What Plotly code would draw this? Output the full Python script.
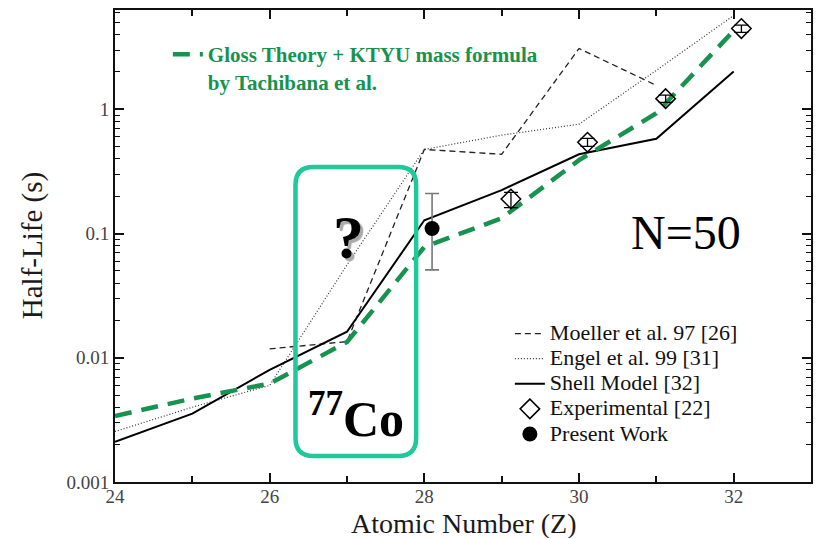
import plotly.graph_objects as go

# Half-lives (s) of N=50 isotones versus atomic number Z
z_shell = [24, 25, 26, 27, 28, 29, 30, 31, 32]
t_shell = [0.00211, 0.00355, 0.0080, 0.0162, 0.128, 0.224, 0.435, 0.58, 2.02]

z_gloss = [24, 25, 26, 27, 28, 29, 30, 31, 32]
t_gloss = [0.0034, 0.0047, 0.0062, 0.0134, 0.078, 0.133, 0.39, 0.93, 4.3]

z_moeller = [26, 27, 28, 29, 30, 31]
t_moeller = [0.0118, 0.0135, 0.476, 0.435, 3.09, 1.56]

z_engel = [24, 25, 26, 27, 28, 29, 30, 31, 32]
t_engel = [0.00255, 0.0040, 0.0060, 0.056, 0.476, 0.62, 0.76, 2.06, 5.7]

z_exp = [29.12, 30.11, 31.12, 32.1]
t_exp = [0.19, 0.543, 1.22, 4.47]
t_exp_plus = [0.025, 0.04, 0.08, 0.3]
t_exp_minus = [0.028, 0.04, 0.08, 0.3]

z_present = [28.1]
t_present = [0.11]
t_present_plus = [0.10]
t_present_minus = [0.059]

y_tickvals = [0.001, 0.01, 0.1, 1]
y_ticktext = ["0.001", "0.01", "0.1", "1"]
x_tickvals = [24, 26, 28, 30, 32]

W, H = 821, 538
ML, MR, MT, MB = 115, 8, 10, 56
PW, PH = W - ML - MR, H - MT - MB


def px(x):
    return (x - ML) / PW


def py(y):
    return (H - MB - y) / PH


SERIF = "Liberation Serif, Times New Roman, serif"
GREEN = "#17934f"


def big(label, size=22):
    # legend rows are spaced by the legend font size; the label itself is larger
    return f'<span style="font-size:{size}px">{label}</span>'


fig = go.Figure()

fig.add_trace(go.Scatter(
    x=z_moeller, y=t_moeller, mode="lines", name=big("Moeller et al. 97 [26]"),
    line=dict(color="#222", width=1.3, dash="6px,4px")))
fig.add_trace(go.Scatter(
    x=z_engel, y=t_engel, mode="lines", name=big("Engel et al. 99 [31]"),
    line=dict(color="#333", width=1.2, dash="1px,2px")))
fig.add_trace(go.Scatter(
    x=z_shell, y=t_shell, mode="lines", name=big("Shell Model [32]"),
    line=dict(color="#000", width=2)))
fig.add_trace(go.Scatter(
    x=z_gloss, y=t_gloss, mode="lines", legend="legend2",
    name="<b>Gloss Theory + KTYU mass formula<br>by Tachibana et al.</b>",
    line=dict(color=GREEN, width=4.5, dash="17px,10px")))
fig.add_trace(go.Scatter(
    x=z_exp, y=t_exp, mode="markers", name=big("Experimental [22]"),
    marker=dict(symbol="diamond-open", size=15, color="#000",
                line=dict(width=1.5, color="#000")),
    error_y=dict(type="data", array=t_exp_plus, arrayminus=t_exp_minus,
                 symmetric=False, color="#000", thickness=1.3, width=7)))
fig.add_trace(go.Scatter(
    x=z_present, y=t_present, mode="markers", name=big("Present Work"),
    marker=dict(symbol="circle", size=15, color="#000"),
    error_y=dict(type="data", array=t_present_plus, arrayminus=t_present_minus,
                 symmetric=False, color="#777", thickness=1.6, width=7)))

# rounded highlight box around Z=27
x0, x1, y0, y1 = px(296), px(417), py(456), py(167)
rx, ry = 18 / PW, 18 / PH
path = (f"M {x0+rx},{y0} L {x1-rx},{y0} Q {x1},{y0} {x1},{y0+ry} "
        f"L {x1},{y1-ry} Q {x1},{y1} {x1-rx},{y1} L {x0+rx},{y1} "
        f"Q {x0},{y1} {x0},{y1-ry} L {x0},{y0+ry} Q {x0},{y0} {x0+rx},{y0} Z")
fig.add_shape(type="path", path=path, xref="paper", yref="paper",
              line=dict(color="#1fc99b", width=4.5))

annotations = [
    dict(text="Half-Life (s)", x=px(32), y=0.5, textangle=-90,
         font=dict(size=29, color="#1a1a1a")),
    dict(text="Atomic Number (Z)", x=px(465), y=py(523),
         font=dict(size=28, color="#1a1a1a")),
    dict(text="N=50", x=px(688), y=py(233), font=dict(size=48, color="#000")),
    dict(text="<b>?</b>", x=px(349), y=py(237),
         font=dict(size=62, color="#000", shadow="3px 3px 1px #aaa")),
    dict(text="<b><sup>77</sup>Co</b>", x=px(357), y=py(415),
         font=dict(size=50, color="#000")),
]
for a in annotations:
    a.update(xref="paper", yref="paper", showarrow=False,
             xanchor="center", yanchor="middle")
    a["font"]["family"] = SERIF
fig.update_layout(annotations=annotations)

axis_common = dict(showline=True, linecolor="#111", linewidth=2, mirror="ticks",
                   ticks="inside", tickcolor="#111", tickwidth=1.5, ticklen=9,
                   showgrid=False, zeroline=False,
                   tickfont=dict(family=SERIF, size=19, color="#444"))

fig.update_xaxes(range=[24, 33], tickvals=x_tickvals, ticklabelstandoff=-4,
                 minor=dict(ticks="inside", dtick=1, tick0=24, ticklen=6,
                            tickcolor="#111", tickwidth=1.5),
                 **axis_common)
fig.update_yaxes(type="log", range=[-3, 0.8], tickvals=y_tickvals,
                 ticktext=y_ticktext,
                 minor=dict(ticks="inside", dtick="D1", ticklen=5,
                            tickcolor="#111", tickwidth=1.2),
                 **axis_common)

fig.update_layout(
    width=W, height=H,
    margin=dict(l=ML, r=MR, t=MT, b=MB),
    plot_bgcolor="white", paper_bgcolor="white",
    font=dict(family=SERIF),
    legend=dict(x=px(511), y=py(316), xanchor="left", yanchor="top",
                bgcolor="rgba(0,0,0,0)", borderwidth=0,
                font=dict(family=SERIF, size=17, color="#111"),
                itemwidth=30, tracegroupgap=0),
    legend2=dict(x=px(168), y=py(34), xanchor="left", yanchor="top",
                 bgcolor="rgba(0,0,0,0)", borderwidth=0, valign="top",
                 font=dict(family=SERIF, size=21, color=GREEN),
                 itemwidth=30),
)

fig.write_html("out.html")
